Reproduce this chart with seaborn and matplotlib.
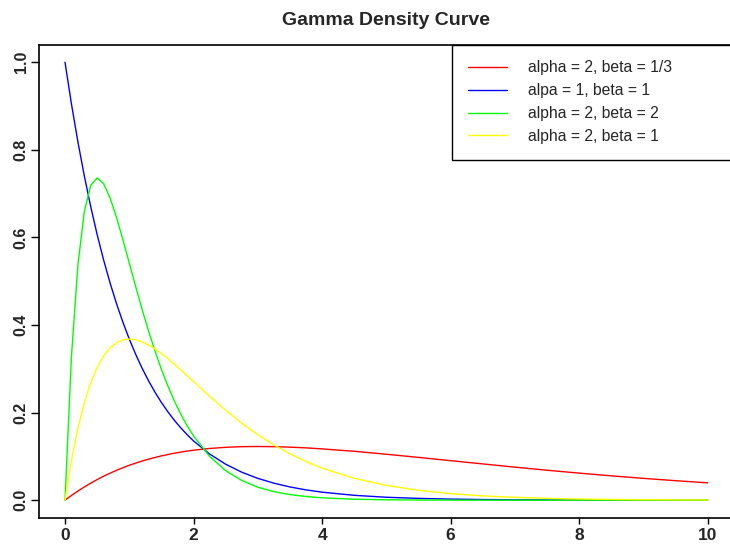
import matplotlib
matplotlib.use("Agg")
import matplotlib.pyplot as plt
import seaborn as sns
import pandas as pd

x = [0, 0.1, 0.2, 0.3, 0.4, 0.5, 0.6, 0.7, 0.8, 0.9, 1.0, 1.1, 1.2, 1.3, 1.4,
     1.5, 1.6, 1.7, 1.8, 1.9, 2.0, 2.25, 2.5, 2.75, 3.0, 3.25, 3.5, 3.75, 4.0,
     4.5, 5.0, 5.5, 6.0, 6.5, 7.0, 7.5, 8.0, 8.5, 9.0, 9.5, 10.0]

red = [0, 0.0108, 0.0208, 0.0302, 0.0389, 0.0470, 0.0546, 0.0616, 0.0681, 0.0741,
       0.0796, 0.0847, 0.0894, 0.0936, 0.0975, 0.1011, 0.1043, 0.1072, 0.1098,
       0.1121, 0.1141, 0.1181, 0.1207, 0.1222, 0.1226, 0.1222, 0.1211, 0.1194,
       0.1171, 0.1116, 0.1049, 0.0977, 0.0902, 0.0828, 0.0754, 0.0684, 0.0618,
       0.0556, 0.0498, 0.0445, 0.0396]

blue = [1.0, 0.9048, 0.8187, 0.7408, 0.6703, 0.6065, 0.5488, 0.4966, 0.4493, 0.4066,
        0.3679, 0.3329, 0.3012, 0.2725, 0.2466, 0.2231, 0.2019, 0.1827, 0.1653,
        0.1496, 0.1353, 0.1054, 0.0821, 0.0639, 0.0498, 0.0388, 0.0302, 0.0235,
        0.0183, 0.0111, 0.0067, 0.0041, 0.0025, 0.0015, 0.0009, 0.0006, 0.0003,
        0.0002, 0.0001, 0.0001, 0.0000]

green = [0, 0.3275, 0.5362, 0.6586, 0.7189, 0.7358, 0.7229, 0.6905, 0.6461, 0.5951,
         0.5413, 0.4875, 0.4355, 0.3863, 0.3405, 0.2987, 0.2610, 0.2270, 0.1967,
         0.1700, 0.1465, 0.1000, 0.0674, 0.0450, 0.0297, 0.0195, 0.0128, 0.0083,
         0.0054, 0.0022, 0.0009, 0.0004, 0.0001, 0.0000, 0.0000, 0.0000, 0.0000,
         0.0000, 0.0000, 0.0000, 0.0000]

yellow = [0, 0.0905, 0.1637, 0.2222, 0.2681, 0.3033, 0.3293, 0.3476, 0.3595, 0.3659,
          0.3679, 0.3662, 0.3614, 0.3543, 0.3452, 0.3347, 0.3230, 0.3106, 0.2975,
          0.2842, 0.2707, 0.2371, 0.2052, 0.1758, 0.1494, 0.1261, 0.1057, 0.0881,
          0.0733, 0.0500, 0.0337, 0.0225, 0.0149, 0.0098, 0.0064, 0.0041, 0.0027,
          0.0017, 0.0011, 0.0007, 0.0005]

labels = ["alpha = 2, beta = 1/3", "alpa = 1, beta = 1",
          "alpha = 2, beta = 2", "alpha = 2, beta = 1"]
colors = ["#FF0000", "#0000FF", "#00FF00", "#FFFF00"]
title = "Gamma Density Curve"
xticks = [0, 2, 4, 6, 8, 10]
yticks = [0.0, 0.2, 0.4, 0.6, 0.8, 1.0]

sns.set_style("white")
plt.rcParams["font.family"] = ["Liberation Sans", "DejaVu Sans"]

fig = plt.figure(figsize=(7.3, 5.46), dpi=100)
ax = fig.add_axes([39.3 / 730, 28.3 / 546, 694.1 / 730, 473.0 / 546])

series = [red, blue, green, yellow]
for ys, lab, col in zip(series, labels, colors):
    df = pd.DataFrame({"x": x, "y": ys})
    sns.lineplot(data=df, x="x", y="y", color=col, linewidth=1.0, label=lab,
                 ax=ax, estimator=None, sort=False)

ax.set_xlim(-0.4, 10.4)
ax.set_ylim(-0.04, 1.04)
ax.set_xticks(xticks)
ax.set_xticklabels([f"{v:g}" for v in xticks], fontweight="bold", fontsize=12.5)
ax.set_yticks(yticks)
ax.set_yticklabels([f"{v:.1f}" for v in yticks], fontweight="bold", fontsize=11.5,
                   rotation=90, va="center")
ax.set_xlabel("")
ax.set_ylabel("")
ax.tick_params(axis="both", direction="out", width=1.0, color="black",
               left=True, bottom=True)
ax.tick_params(axis="x", length=4.5, pad=3)
ax.tick_params(axis="y", length=5.5, pad=2.2)
for s in ax.spines.values():
    s.set_visible(True)
    s.set_color("black")
    s.set_linewidth(1.2)

ax.set_title(title, fontweight="bold", fontsize=14, pad=14)

leg = ax.legend(loc="upper left", bbox_to_anchor=(0.595, 0.0, 0.405, 1.0),
                mode="expand", frameon=True, fancybox=False, framealpha=1,
                edgecolor="black", fontsize=11.3, handlelength=2.5,
                handletextpad=1.3, labelspacing=0.5, borderpad=1.0,
                borderaxespad=0.0)
leg.get_frame().set_linewidth(1.0)

fig.savefig("out.png", dpi=100)
